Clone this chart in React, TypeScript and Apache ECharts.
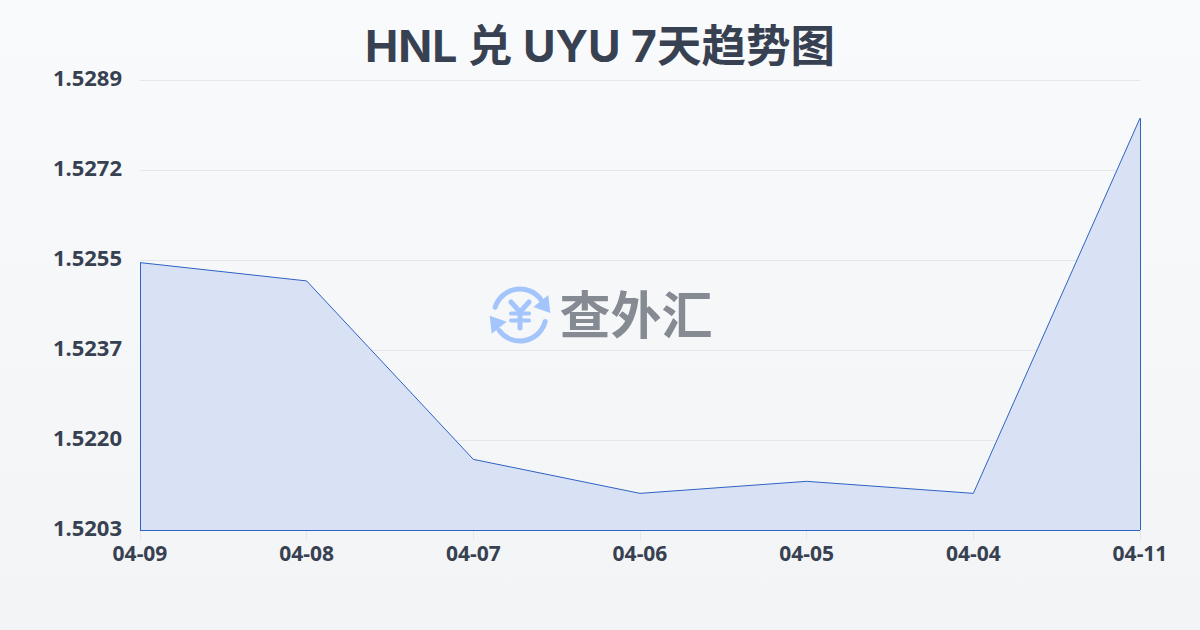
import React, { useEffect, useRef } from "react";
import * as echarts from "echarts";

const title = "HNL 兑 UYU 7天趋势图";
const categories = ["04-09", "04-08", "04-07", "04-06", "04-05", "04-04", "04-11"];
const rates = [1.52541, 1.52506, 1.52165, 1.521, 1.52123, 1.521, 1.52817];
const axisMin = 1.5203;
const axisMax = 1.5289;
const axisStep = 0.00172;
const brand = "查外汇";
const TITLE_FONT = 'Inter, "Noto Sans CJK SC", sans-serif';
const FONT = '"Noto Sans", sans-serif';
const INK = "#374151";
const BLUE = "#2f62c4";
const LOGO = "#a3c5fb";

echarts.graphic.registerShape(
  "fxArrowA",
  echarts.graphic.extendPath("M1 1 L-16 -5 L-1 -17 Z", {})
);

export default function App() {
  const ref = useRef<HTMLDivElement>(null);
  useEffect(() => {
    document.body.style.margin = "0";
    const chart = echarts.init(ref.current!, undefined, { renderer: "svg" });
    const last = categories.length - 1;
    chart.setOption({
      animation: false,
      backgroundColor: new echarts.graphic.LinearGradient(0, 0, 0, 1, [
        { offset: 0, color: "#f9fafc" },
        { offset: 1, color: "#f3f4f6" },
      ]),
      title: {
        text: title,
        left: "center",
        top: 19,
        textStyle: { fontFamily: TITLE_FONT, fontSize: 44.5, fontWeight: "bold", color: INK },
      },
      grid: { left: 140, right: 60, top: 80, bottom: 100 },
      xAxis: {
        type: "category",
        boundaryGap: false,
        data: categories,
        axisLine: { lineStyle: { color: "#e5e7eb" } },
        axisTick: { show: true, alignWithLabel: true, length: 10, lineStyle: { color: "#e5e7eb" } },
        axisLabel: { fontFamily: FONT, fontSize: 21, fontWeight: "bold", color: INK, margin: 12 },
        splitLine: { show: false },
      },
      yAxis: {
        type: "value",
        min: axisMin,
        max: axisMax,
        interval: axisStep,
        axisLine: { show: false },
        axisTick: { show: false },
        axisLabel: {
          fontFamily: FONT,
          fontSize: 22,
          fontWeight: "bold",
          color: INK,
          margin: 18,
          lineHeight: 18,
          verticalAlign: "bottom",
          padding: [0, 0, -6, 0],
          formatter: (v: number) => v.toFixed(4),
        },
        splitLine: { show: true, lineStyle: { color: "#e5e7eb", width: 1 } },
      },
      graphic: [
        {
          type: "group",
          silent: true,
          z: 5,
          children: [
            { type: "arc", shape: { cx: 520, cy: 315, r: 26, startAngle: -2.84, endAngle: -0.6 }, style: { stroke: LOGO, lineWidth: 5, fill: "none", lineCap: "round" } },
            { type: "arc", shape: { cx: 520, cy: 315, r: 26, startAngle: 0.25, endAngle: 2.5 }, style: { stroke: LOGO, lineWidth: 5, fill: "none", lineCap: "round" } },
            { type: "fxArrowA", x: 549.3, y: 312, style: { fill: LOGO } },
            { type: "fxArrowA", x: 490.7, y: 316.7, rotation: Math.PI, style: { fill: LOGO } },
            { type: "polyline", shape: { points: [[511, 302], [520, 312], [529, 302]] }, style: { stroke: LOGO, lineWidth: 5, fill: "none", lineCap: "round" } },
            { type: "line", shape: { x1: 520, y1: 312, x2: 520, y2: 328 }, style: { stroke: LOGO, lineWidth: 5, lineCap: "round" } },
            { type: "line", shape: { x1: 511, y1: 313.5, x2: 529, y2: 313.5 }, style: { stroke: LOGO, lineWidth: 4, lineCap: "round" } },
            { type: "line", shape: { x1: 511, y1: 320.5, x2: 529, y2: 320.5 }, style: { stroke: LOGO, lineWidth: 4, lineCap: "round" } },
            {
              type: "text",
              x: 636,
              y: 312,
              style: {
                text: brand,
                fontFamily: '"Noto Sans CJK SC", sans-serif',
                fontSize: 51,
                fontWeight: "bold",
                fill: "#868a93",
                align: "center",
                verticalAlign: "middle",
              },
            },
          ],
        },
      ],
      series: [
        {
          type: "line",
          data: rates,
          symbol: "none",
          smooth: false,
          lineStyle: { color: BLUE, width: 1 },
          areaStyle: { color: "#d9e2f5", opacity: 1 },
          z: 3,
          markLine: {
            silent: true,
            symbol: "none",
            label: { show: false },
            lineStyle: { color: BLUE, width: 1, type: "solid" },
            data: [
              [{ coord: [0, axisMin] }, { coord: [0, rates[0]] }],
              [{ coord: [0, axisMin] }, { coord: [last, axisMin] }],
              [{ coord: [last, axisMin] }, { coord: [last, rates[last]] }],
            ],
          },
        },
      ],
    });
    return () => chart.dispose();
  }, []);
  return <div ref={ref} style={{ width: 1200, height: 630 }} />;
}
